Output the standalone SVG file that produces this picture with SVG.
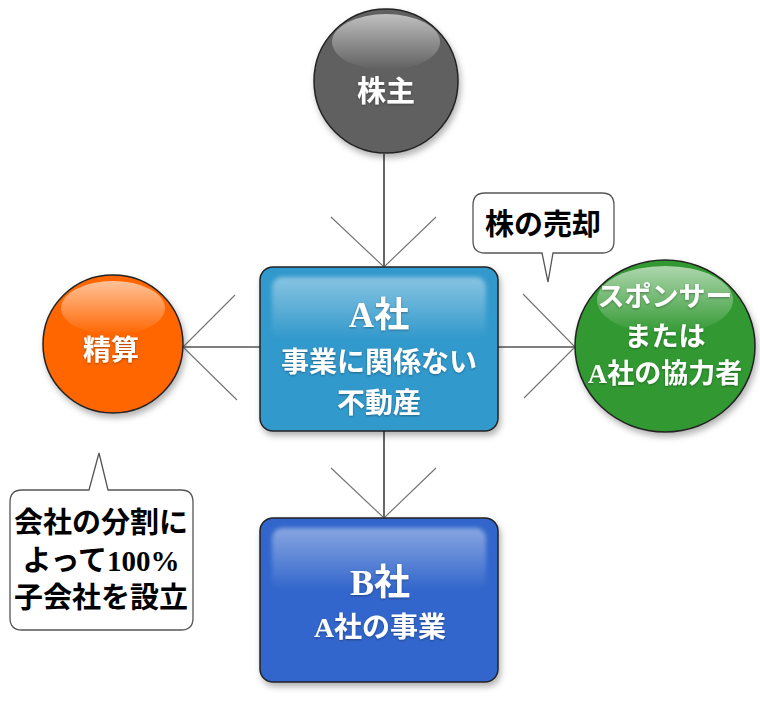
<svg xmlns="http://www.w3.org/2000/svg" width="760" height="710" viewBox="0 0 760 710">
<defs>
<filter id="sh" x="-20%" y="-20%" width="140%" height="140%">
<feDropShadow dx="2" dy="4" stdDeviation="3" flood-color="#000" flood-opacity="0.3"/>
</filter>
<filter id="ts" x="-10%" y="-10%" width="120%" height="130%">
<feDropShadow dx="0" dy="1" stdDeviation="1" flood-color="#000" flood-opacity="0.35"/>
</filter>
<filter id="bl" x="-10%" y="-20%" width="120%" height="140%">
<feGaussianBlur stdDeviation="2"/>
</filter>
<linearGradient id="hlc" x1="0" y1="0" x2="0" y2="1">
<stop offset="0" stop-color="#fff" stop-opacity="0.6"/>
<stop offset="1" stop-color="#fff" stop-opacity="0"/>
</linearGradient>
<linearGradient id="hlb" x1="0" y1="0" x2="0" y2="1">
<stop offset="0" stop-color="#fff" stop-opacity="0.42"/>
<stop offset="1" stop-color="#fff" stop-opacity="0"/>
</linearGradient>
</defs>
<style>
.ln{stroke:#000;stroke-width:1.2;fill:none}
.ah{stroke:#777;stroke-width:1.2;fill:none}
.ol{stroke:#222;stroke-width:1.5}
.wt{fill:#fff;font-family:"Liberation Serif","Noto Sans CJK JP",serif;font-weight:bold;text-anchor:middle}
.bt{fill:#000;font-family:"Liberation Serif","Noto Sans CJK JP",serif;font-weight:bold;text-anchor:middle}
.co{fill:#fff;stroke:#555;stroke-width:1.3}
</style>
<g id="connectors">
<line class="ln" x1="384" y1="154" x2="384" y2="267"/>
<polyline class="ah" points="331,217 384,267 436,217"/>
<line class="ln" x1="384" y1="431" x2="384" y2="518"/>
<polyline class="ah" points="331,468 384,518 436,468"/>
<line class="ln" x1="498" y1="347" x2="575" y2="347"/>
<polyline class="ah" points="523,294 575,347 524,398"/>
<line class="ln" x1="260" y1="347" x2="183" y2="347"/>
<polyline class="ah" points="235,295 183,347 237,400"/>
</g>
<g id="shareholders">
<circle cx="386" cy="81" r="72" fill="#616161" class="ol" filter="url(#sh)"/>
<ellipse cx="386" cy="42" rx="54" ry="28" fill="url(#hlc)"/>
<text class="wt" x="386" y="102" font-size="29" filter="url(#ts)">株主</text>
</g>
<g id="liquidation">
<ellipse cx="113" cy="344" rx="70" ry="69" fill="#ff6600" class="ol" filter="url(#sh)"/>
<ellipse cx="113" cy="308" rx="52" ry="27" fill="url(#hlc)"/>
<text class="wt" x="111" y="360" font-size="28" filter="url(#ts)">精算</text>
</g>
<g id="sponsor">
<ellipse cx="665" cy="346" rx="90" ry="86" fill="#339933" class="ol" filter="url(#sh)"/>
<ellipse cx="665" cy="300" rx="68" ry="34" fill="url(#hlc)"/>
<text class="wt" x="665" y="306" font-size="27" filter="url(#ts)">スポンサー</text>
<text class="wt" x="665" y="346" font-size="27" filter="url(#ts)">または</text>
<text class="wt" x="665" y="383" font-size="27" filter="url(#ts)">A社の協力者</text>
</g>
<g id="companyA">
<rect x="260" y="267" width="238" height="164" rx="13" fill="#3399cc" class="ol" filter="url(#sh)"/>
<rect x="272" y="277" width="214" height="62" rx="10" fill="url(#hlb)" filter="url(#bl)"/>
<text class="wt" x="379" y="327" font-size="35" filter="url(#ts)">A社</text>
<text class="wt" x="379" y="372" font-size="28" filter="url(#ts)">事業に関係ない</text>
<text class="wt" x="379" y="413" font-size="28" filter="url(#ts)">不動産</text>
</g>
<g id="companyB">
<rect x="260" y="518" width="238" height="164" rx="13" fill="#3366cc" class="ol" filter="url(#sh)"/>
<rect x="272" y="528" width="214" height="62" rx="10" fill="url(#hlb)" filter="url(#bl)"/>
<text class="wt" x="380" y="595" font-size="36" filter="url(#ts)">B社</text>
<text class="wt" x="380" y="637" font-size="28" filter="url(#ts)">A社の事業</text>
</g>
<g id="callout-sale">
<path class="co" d="M485,193 H602 Q614,193 614,205 V241 Q614,253 602,253 H553 L548,282 L542,253 H485 Q473,253 473,241 V205 Q473,193 485,193 Z"/>
<text class="bt" x="543" y="235" font-size="29">株の売却</text>
</g>
<g id="callout-split">
<path class="co" d="M22,490 H89 L99,453 L108,490 H181 Q193,490 193,502 V618 Q193,630 181,630 H22 Q10,630 10,618 V502 Q10,490 22,490 Z"/>
<text class="bt" x="101" y="533" font-size="29">会社の分割に</text>
<text class="bt" x="101" y="571" font-size="29">よって100%</text>
<text class="bt" x="101" y="608" font-size="29">子会社を設立</text>
</g>
</svg>
